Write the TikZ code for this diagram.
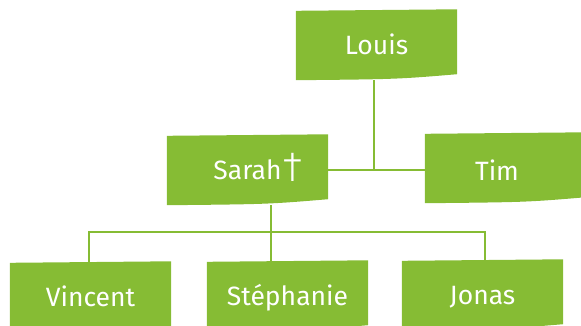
\documentclass[tikz,border=0pt]{standalone}
\usepackage{fontspec}
\setmainfont{Fira Sans}
\newfontfamily\daggerfont{Fira Sans Light}
\usetikzlibrary{backgrounds}
\definecolor{leaf}{RGB}{134,188,52}
\tikzset{
  pbox/.style={minimum width=161pt, minimum height=69pt, inner sep=0pt,
    text=white, font=\fontsize{26.5pt}{30pt}\selectfont,
    text height=18.4pt, text depth=0pt},
  link/.style={draw=leaf, line width=1.6pt},
}
\begin{document}
\begin{tikzpicture}[x=1pt,y=-1pt]
\useasboundingbox (0,0) rectangle (581,325);
\clip (0,0) rectangle (581,325);
\node[pbox] (louis) at (376.5,45.5) {Louis};
\node[pbox] (sarah) at (247.5,170.5) {Sarah\rlap{\hspace{0.5pt}\raisebox{-2pt}{\scalebox{1.55}[1.6]{\daggerfont †}}}};
\node[pbox] (tim) at (505.5,168.5) {\raisebox{-2.5pt}{Tim}\hspace*{17pt}};
\node[pbox] (vincent) at (90.5,297.5) {Vincent};
\node[pbox] (stephanie) at (287.5,296.5) {Stéphanie};
\node[pbox] (jonas) at (482.5,295.5) {Jonas};
\coordinate (j1) at (374,170);
\coordinate (j2) at (271,232);
\coordinate (a1) at (89,232);
\coordinate (a3) at (485,232);
\begin{scope}[on background layer]
\foreach \n in {louis,sarah,tim,vincent,stephanie,jonas}{
  \fill[leaf] (\n.north west) -- ([yshift=1.5pt]\n.north east)
     -- ([yshift=6pt]\n.south east)
     .. controls ([xshift=-60pt,yshift=1pt]\n.south east) .. (\n.south west) -- cycle;
}
\draw[link] (louis.south -| j1) -- (j1);
\draw[link] (sarah.east |- j1) -- (tim.west |- j1);
\draw[link] (sarah.south -| j2) -- (j2);
\draw[link] (vincent.north -| a1) -- (a1) -- (a3) -- (jonas.north -| a3);
\draw[link] (stephanie.north -| j2) -- (j2);
\end{scope}
\end{tikzpicture}
\end{document}
